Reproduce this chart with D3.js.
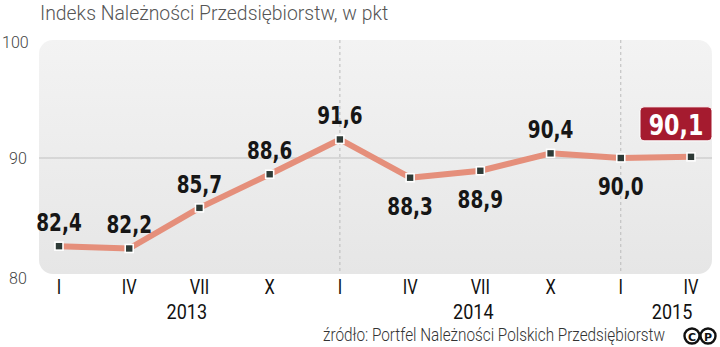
<!DOCTYPE html>
<html><head><meta charset="utf-8">
<script src="https://cdn.jsdelivr.net/npm/d3@7"></script>
<style>
body{margin:0;background:#fff;}
svg{display:block;}
</style></head>
<body><svg id="c" width="720" height="347"></svg>
<script>
const quarters = ["I","IV","VII","X","I","IV","VII","X","I","IV"];
const values = [82.4,82.2,85.7,88.6,91.6,88.3,88.9,90.4,90.0,90.1];
const labelPos = ["above","above","above","above","above","below","below","above","below","box"];
const years = [{y:"2013",i:1.82},{y:"2014",i:5.9},{y:"2015",i:8.73}];
const yTicks = [80,90,100];
const yearStarts = [4,8];

const svg = d3.select("#c");
const cond = "'DejaVu Sans Condensed','DejaVu Sans',sans-serif";
const light = "'Roboto','Open Sans',sans-serif";
const x = d3.scaleLinear().domain([0,9]).range([59,691]);
const y = d3.scaleLinear().domain([80,100]).range([274,42]);

function stext(px, py, str, opts){
  return svg.append("text")
    .attr("transform",`translate(${px},${py}) scale(${opts.sx||1},1)`)
    .attr("text-anchor",opts.anchor||"middle")
    .attr("font-family",opts.family).attr("font-weight",opts.weight||400)
    .attr("font-size",opts.size).attr("fill",opts.fill||"#111").text(str);
}

const defs = svg.append("defs");
const g = defs.append("linearGradient").attr("id","bg").attr("x1",0).attr("x2",0).attr("y1",0).attr("y2",1);
g.append("stop").attr("offset","0").attr("stop-color","#f3f3f3");
g.append("stop").attr("offset","1").attr("stop-color","#e6e6e6");

svg.append("rect").attr("x",39).attr("y",y(100)-2).attr("width",673).attr("height",y(80)-y(100)+2)
  .attr("rx",14).attr("fill","url(#bg)");

stext(40,20,"Indeks Należności Przedsiębiorstw, w pkt",{anchor:"start",family:light,weight:300,size:20,sx:0.97,fill:"#555"});

// y labels
svg.selectAll(".yl").data(yTicks).enter().append("text")
  .attr("x",d=>d===100?2:9).attr("y",d=>y(d)+(d===80?10:6)).text(d=>d)
  .attr("font-family",light).attr("font-weight",300).attr("font-size",16).attr("fill","#444");

// gridline 90
svg.append("line").attr("x1",39).attr("x2",712).attr("y1",y(90)).attr("y2",y(90)).attr("stroke","#cfcfcf").attr("stroke-width",1.5);

// dashed year separators
svg.selectAll(".ys").data(yearStarts).enter().append("line")
  .attr("x1",d=>x(d)).attr("x2",d=>x(d)).attr("y1",y(100)-2).attr("y2",y(80))
  .attr("stroke","#bbb").attr("stroke-dasharray","3,3").attr("stroke-width",1);

// line
svg.append("path").datum(values).attr("d",d3.line().x((d,i)=>x(i)).y(d=>y(d)))
  .attr("fill","none").attr("stroke","#e58f7b").attr("stroke-width",6).attr("stroke-linejoin","round");

// markers
svg.selectAll(".m").data(values).enter().append("rect")
  .attr("x",(d,i)=>x(i)-4).attr("y",d=>y(d)-4).attr("width",8).attr("height",8)
  .attr("fill","#2d3a36").attr("stroke","#fff").attr("stroke-width",1.6);

const fmt = v=>v.toFixed(1).replace(".",",");
values.forEach((v,i)=>{
  const p = labelPos[i];
  if(p==="box"){
    const bx = x(i)-51, by = y(v)-50;
    svg.append("rect").attr("x",bx).attr("y",by).attr("width",72).attr("height",34).attr("rx",4)
      .attr("fill","#a51b2f").attr("stroke","#fff").attr("stroke-width",1);
    stext(bx+36,by+28,fmt(v),{family:cond,weight:700,size:29,sx:0.85,fill:"#fff"});
  } else {
    stext(x(i), p==="above"?y(v)-15:y(v)+37, fmt(v),{family:cond,weight:700,size:25,sx:0.82,fill:"#161616"});
  }
});

// quarter labels
quarters.forEach((q,i)=>stext(x(i),294,q,{family:light,weight:400,size:20,sx:0.82,fill:"#111"}));
years.forEach(d=>stext(x(d.i),319,d.y,{family:light,weight:400,size:20,sx:0.9,fill:"#111"}));

// source
stext(665,341,"źródło: Portfel Należności Polskich Przedsiębiorstw",{anchor:"end",family:light,weight:300,size:18,sx:0.85,fill:"#333"});
// logo
[["C",692],["P",708]].forEach(([t,cx])=>{
  svg.append("circle").attr("cx",cx).attr("cy",336).attr("r",7.5).attr("fill","#fff").attr("stroke","#111").attr("stroke-width",2.4);
  svg.append("text").attr("x",cx).attr("y",340.5).attr("text-anchor","middle").text(t)
    .attr("font-family","'DejaVu Sans',sans-serif").attr("font-weight",700).attr("font-size",11).attr("fill","#111");
});
</script></body></html>
